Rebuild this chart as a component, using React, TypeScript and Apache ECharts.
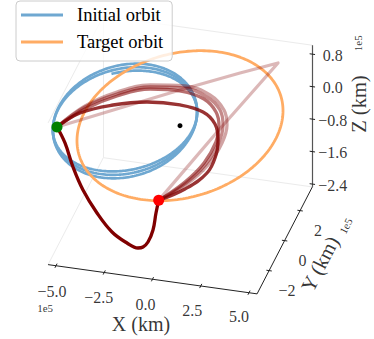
import React, { useEffect, useRef } from 'react';
import * as echarts from 'echarts';

// ---- data (all 3D values in units of 1e5 km) ----
const X_LIM = [-5.41, 5.42];
const Y_LIM = [-3.55, 3.58];
const Z_LIM = [-2.47, 1.02];
const X_TICKS = [-5, -2.5, 0, 2.5, 5];
const X_TICK_LABELS = ['\u22125.0', '\u22122.5', '0.0', '2.5', '5.0'];
const Y_TICKS = [-2, 0, 2];
const Y_TICK_LABELS = ['\u22122', '0', '2'];
const Z_TICKS = [0.8, 0, -0.8, -1.6, -2.4];
const Z_TICK_LABELS = ['0.8', '0.0', '\u22120.8', '\u22121.6', '\u22122.4'];

// initial orbit: center, semi-axis vectors, per revolution
const INITIAL_CENTER = [-2.85, 0, -0.074];
const INITIAL_AXIS_A = [3.731, 0, 0.396];
const INITIAL_AXIS_B = [
  [0.207, 0, 1.418],
  [0.207, 0, 1.332],
  [0.207, 0, 1.246],
];
const INITIAL_ARC_DEG = [
  [0, 360],
  [0, 360],
  [-180, 104],
];

// target orbit
const TARGET_CENTER = [0, 0, 0];
const TARGET_AXIS_A = [5.337, 0, 0.724];
const TARGET_AXIS_B = [0, 0, 1.81];

const START = [-6.373, 0, -0.456];
const END = [-1.104, 0, -1.911];
const CENTRAL_BODY = [0, 0, 0];

// transfer trajectory iterations (early -> final)
const TRAJ_1 = [START, [-3.109, 0, 0.229], [0, 0, 0.879], [3.109, 0, 1.505], [5.078, 0, 1.882], [1.969, 0, 0.0], END];
const TRAJ_2 = [START, [-4.922, 0, 0.158], [-3.264, 0, 0.613], [-1.554, 0, 0.899], [0.259, 0, 0.995], [1.554, 0, 0.86], [2.28, 0, 0.538], [2.435, 0, 0.179], [2.176, 0, -0.281], [1.451, 0, -0.871], [0.363, 0, -1.412], END];
const TRAJ_3 = [START, [-4.922, 0, 0.133], [-3.264, 0, 0.564], [-1.554, 0, 0.85], [0.155, 0, 0.939], [1.399, 0, 0.8], [2.073, 0, 0.525], [2.228, 0, 0.166], [2.021, 0, -0.267], [1.347, 0, -0.854], [0.311, 0, -1.391], END];
const TRAJ_4 = [START, [-4.922, 0, 0.084], [-3.264, 0, 0.515], [-1.554, 0, 0.8], [0.052, 0, 0.858], [1.244, 0, 0.74], [1.865, 0, 0.462], [2.021, 0, 0.127], [1.865, 0, -0.277], [1.244, 0, -0.836], [0.259, 0, -1.369], END];
const TRAJ_5 = [START, [-5.181, 0, -0.032], [-3.472, 0, 0.279], [-1.71, 0, 0.47], [0, 0, 0.51], [1.192, 0, 0.417], [1.813, 0, 0.163], [1.969, 0, -0.221], [1.865, 0, -0.598], [1.399, 0, -1.072], [0.259, 0, -1.542], END];
const TRAJ_6 = [START, [-5.959, 0, -0.822], [-5.544, 0, -1.386], [-5.026, 0, -1.918], [-4.301, 0, -2.436], [-3.523, 0, -2.852], [-2.746, 0, -3.072], [-2.176, 0, -3.157], [-1.917, 0, -3.115], [-1.658, 0, -2.975], [-1.399, 0, -2.662], [-1.244, 0, -2.233], END];
const TRAJECTORIES = [TRAJ_1, TRAJ_2, TRAJ_3, TRAJ_4, TRAJ_5, TRAJ_6];
const TRAJ_ALPHA = [0.28, 0.36, 0.46, 0.56, 0.8, 1];

// ---- view (projection of the 3D box onto the page) ----
const VIEW_O = [180, 125.7];
const VIEW_EX = [19.3, 2.7];
const VIEW_EY = [7.75, -15];
const VIEW_EZ = [0, -40.6];

const W = 374;
const H = 339;
const FONT = "'Liberation Serif', 'Times New Roman', serif";

function P(p: number[]): number[] {
  return [
    VIEW_O[0] + VIEW_EX[0] * p[0] + VIEW_EY[0] * p[1] + VIEW_EZ[0] * p[2],
    VIEW_O[1] + VIEW_EX[1] * p[0] + VIEW_EY[1] * p[1] + VIEW_EZ[1] * p[2],
  ];
}

function ellipse(c: number[], a: number[], b: number[], t0: number, t1: number, n = 240) {
  const pts: number[][] = [];
  for (let i = 0; i <= n; i++) {
    const t = ((t0 + ((t1 - t0) * i) / n) * Math.PI) / 180;
    const ct = Math.cos(t);
    const st = Math.sin(t);
    pts.push(P([0, 1, 2].map((k) => c[k] + a[k] * ct + b[k] * st)));
  }
  return pts;
}

function textSeries(items: { pos: number[]; text: string }[], fontSize: number, rotate = 0) {
  return {
    type: 'scatter',
    symbolSize: 1,
    itemStyle: { color: 'rgba(0,0,0,0)' },
    silent: true,
    z: 6,
    data: items.map((it) => ({ value: it.pos, name: it.text })),
    label: {
      show: true,
      position: 'inside',
      formatter: '{b}',
      fontSize,
      lineHeight: fontSize,
      fontFamily: FONT,
      color: '#000',
      rotate,
    },
  };
}

function add(a: number[], b: number[]) {
  return [a[0] + b[0], a[1] + b[1]];
}

export default function App() {
  const ref = useRef<HTMLDivElement>(null);
  useEffect(() => {
    document.body.style.margin = '0';
    if (!ref.current) return;
    const chart = echarts.init(ref.current, undefined, { renderer: 'svg' });
    const [x0, x1] = X_LIM;
    const [y0, y1] = Y_LIM;
    const [z0, z1] = Z_LIM;

    const paneEdges = [
      [[x0, y0, z0], [x0, y1, z0]],
      [[x0, y1, z0], [x1, y1, z0]],
      [[x0, y0, z1], [x0, y1, z1]],
      [[x0, y1, z1], [x1, y1, z1]],
      [[x0, y1, z0], [x0, y1, z1]],
    ].map((s) => ({ coords: s.map(P) }));

    const axisLines = [
      [[x0, y0, z0], [x1, y0, z0]],
      [[x1, y0, z0], [x1, y1, z0]],
    ].map((s) => ({ coords: s.map(P) }));
    const zAxisLine = [[[x1, y1, z0], [x1, y1, z1]]].map((s) => ({ coords: s.map(P) }));

    const tk = 0.14;
    const tickSegs = [
      ...X_TICKS.map((x) => ({ coords: [P([x, y0 - tk, z0]), P([x, y0 + tk, z0])] })),
      ...Y_TICKS.map((y) => ({ coords: [P([x1 - tk, y, z0]), P([x1 + tk, y, z0])] })),
      ...Z_TICKS.map((z) => ({ coords: [P([x1 - tk, y1, z]), P([x1 + tk, y1, z])] })),
    ];

    const series: any[] = [];
    series.push({
      type: 'lines',
      coordinateSystem: 'cartesian2d',
      silent: true,
      z: 1,
      lineStyle: { color: '#ebebeb', width: 1, opacity: 1 },
      data: paneEdges,
    });
    series.push({
      type: 'lines',
      coordinateSystem: 'cartesian2d',
      silent: true,
      z: 1,
      lineStyle: { color: '#222', width: 1, opacity: 1 },
      data: axisLines,
    });
    series.push({
      type: 'lines',
      coordinateSystem: 'cartesian2d',
      silent: true,
      z: 1,
      lineStyle: { color: '#555', width: 1.2, opacity: 1 },
      data: zAxisLine,
    });
    series.push({
      type: 'lines',
      coordinateSystem: 'cartesian2d',
      silent: true,
      z: 1,
      lineStyle: { color: '#222', width: 1, opacity: 1 },
      data: tickSegs,
    });

    INITIAL_AXIS_B.forEach((b, i) => {
      series.push({
        type: 'line',
        name: 'Initial orbit',
        color: '#6fa8d1',
        showSymbol: false,
        clip: false,
        silent: true,
        z: 2,
        lineStyle: { color: '#6fa8d1', width: 2.7 },
        data: ellipse(INITIAL_CENTER, INITIAL_AXIS_A, b, INITIAL_ARC_DEG[i][0], INITIAL_ARC_DEG[i][1]),
      });
    });
    series.push({
      type: 'line',
      name: 'Target orbit',
      color: '#ffac64',
      showSymbol: false,
      clip: false,
      silent: true,
      z: 2,
      lineStyle: { color: '#ffac64', width: 2.8 },
      data: ellipse(TARGET_CENTER, TARGET_AXIS_A, TARGET_AXIS_B, 0, 360),
    });

    TRAJECTORIES.forEach((tr, i) => {
      series.push({
        type: 'line',
        name: 'transfer ' + (i + 1),
        showSymbol: false,
        clip: false,
        silent: true,
        z: 3,
        smooth: i === 0 ? false : 0.4,
        lineStyle: { color: `rgba(128,0,0,${TRAJ_ALPHA[i]})`, width: 3.3, cap: 'round', join: 'round' },
        data: tr.map(P),
      });
    });

    series.push({
      type: 'scatter',
      silent: true,
      z: 5,
      symbolSize: 11,
      itemStyle: { color: '#008000', opacity: 1 },
      data: [P(START)],
    });
    series.push({
      type: 'scatter',
      silent: true,
      z: 5,
      symbolSize: 11,
      itemStyle: { color: '#ff0000', opacity: 1 },
      data: [P(END)],
    });
    series.push({
      type: 'scatter',
      silent: true,
      z: 5,
      symbolSize: 5,
      itemStyle: { color: '#000', opacity: 1 },
      data: [P(CENTRAL_BODY)],
    });

    // tick labels
    series.push(
      textSeries(
        X_TICKS.map((x, i) => ({ pos: add(P([x, y0, z0]), [-7 - 0.6 * x, 25 - 0.2 * x]), text: X_TICK_LABELS[i] })),
        16
      )
    );
    series.push(
      textSeries(
        Y_TICKS.map((y, i) => ({ pos: add(P([x1, y, z0]), [18, 20]), text: Y_TICK_LABELS[i] })),
        16
      )
    );
    series.push(
      textSeries(
        Z_TICKS.map((z, i) => ({ pos: add(P([x1, y1, z]), [20.5, 1]), text: Z_TICK_LABELS[i] })),
        16
      )
    );
    // axis labels
    series.push(textSeries([{ pos: add(P([0, y0, z0]), [-11.5, 45]), text: 'X (km)' }], 20));
    series.push(textSeries([{ pos: add(P([x1, 0, z0]), [35.4, 23.4]), text: 'Y (km)' }], 20.5, 62.7));
    series.push(textSeries([{ pos: add(P([x1, y1, (z0 + z1) / 2]), [46.4, -12]), text: 'Z (km)' }], 20.5, 90));
    // offset texts
    series.push(textSeries([{ pos: add(P([x0, y0, z0]), [-3, 43]), text: '1e5' }], 11));
    series.push(textSeries([{ pos: add(P([x1, y1, z0]), [33.4, 39]), text: '1e5' }], 11, 62.7));
    series.push(textSeries([{ pos: add(P([x1, y1, z1]), [45.4, -2]), text: '1e5' }], 11, 90));

    chart.setOption({
      animation: false,
      grid: { left: 0, top: 0, right: 0, bottom: 0, containLabel: false },
      xAxis: { type: 'value', min: 0, max: W, show: false },
      yAxis: { type: 'value', min: 0, max: H, inverse: true, show: false },
      legend: {
        data: ['Initial orbit', 'Target orbit'],
        selectedMode: false,
        orient: 'vertical',
        left: 16,
        top: 1,
        icon: 'rect',
        itemWidth: 42,
        itemHeight: 3,
        itemGap: 5,
        padding: [3, 9, 8, 5],
        backgroundColor: 'rgba(255,255,255,0.8)',
        borderColor: '#cccccc',
        borderWidth: 1,
        borderRadius: 4,
        z: 10,
        textStyle: { fontFamily: FONT, fontSize: 18.5, color: '#000', lineHeight: 22, padding: [0, 0, 0, 9] },
      },
      series,
    });
    return () => chart.dispose();
  }, []);
  return <div ref={ref} style={{ width: W, height: H }} />;
}
